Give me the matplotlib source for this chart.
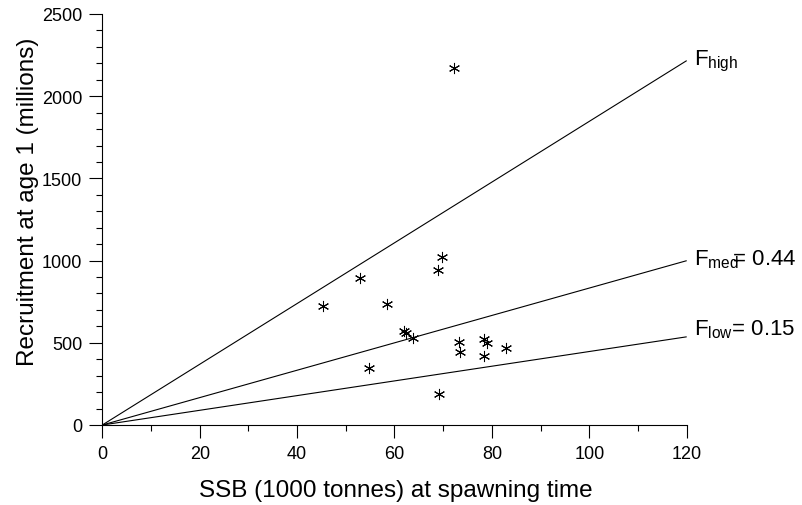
import matplotlib
matplotlib.use("Agg")
import matplotlib.pyplot as plt
import numpy as np
from matplotlib.ticker import MultipleLocator

plt.rcParams['font.family'] = ['Liberation Sans', 'DejaVu Sans']
plt.rcParams['mathtext.fontset'] = 'custom'
plt.rcParams['mathtext.rm'] = 'Liberation Sans'
plt.rcParams['mathtext.it'] = 'Liberation Sans'

# Stock-recruitment observations
ssb = [45.3, 52.9, 58.5, 62.0, 62.4, 63.9, 54.8, 69.7, 69.0, 73.3,
       73.4, 78.4, 78.9, 78.4, 82.8, 69.2, 72.2]
recruits = [726, 894, 736, 574, 560, 531, 349, 1022, 941, 505,
            444, 521, 501, 418, 466, 189, 2170]

# Replacement lines (recruits per unit SSB) and their labels
line_slopes = [18.47, 8.33, 4.47]
line_labels = [r'F$_{\mathrm{high}}$',
               r'F$_{\mathrm{med}}\!\!$= 0.44',
               r'F$_{\mathrm{low}}$= 0.15']
label_offsets = [(5, -3), (5, -3), (5, 2)]

x_ticks = [0, 20, 40, 60, 80, 100, 120]
y_ticks = [0, 500, 1000, 1500, 2000, 2500]

fig = plt.figure(figsize=(8.03, 5.06), dpi=100)
ax = fig.add_axes([102.3 / 803, 1 - 426 / 506, 584.4 / 803, 411 / 506])

xmax = 120
for slope, lab, off in zip(line_slopes, line_labels, label_offsets):
    ax.plot([0, xmax], [0, slope * xmax], color='black', lw=0.8,
            solid_capstyle='butt', clip_on=False)
    ax.annotate(lab, xy=(xmax, slope * xmax), xytext=off,
                textcoords='offset points', ha='left', va='baseline',
                fontsize=16, annotation_clip=False)

ax.plot(ssb, recruits, linestyle='none', marker=(6, 2, 0), ms=8,
        mew=0.75, color='black', clip_on=False)

ax.set_xlim(0, 120)
ax.set_ylim(0, 2500)
ax.set_xticks(x_ticks)
ax.set_yticks(y_ticks)
ax.xaxis.set_minor_locator(MultipleLocator(10))
ax.yaxis.set_minor_locator(MultipleLocator(100))
ax.tick_params(which='major', direction='out', length=9.5, width=0.8,
               labelsize=13, pad=5)
ax.tick_params(which='minor', direction='out', length=4.5, width=0.8)
for s in ('top', 'right'):
    ax.spines[s].set_visible(False)
for s in ('left', 'bottom'):
    ax.spines[s].set_linewidth(0.8)

fig.text(396 / 803, 1 - 491 / 506, 'SSB (1000 tonnes) at spawning time',
         ha='center', va='center', fontsize=17.5)
fig.text(28 / 803, 1 - 202 / 506, 'Recruitment at age 1 (millions)',
         ha='center', va='center', rotation=90, fontsize=17.5)

fig.savefig('out.png', dpi=100)
